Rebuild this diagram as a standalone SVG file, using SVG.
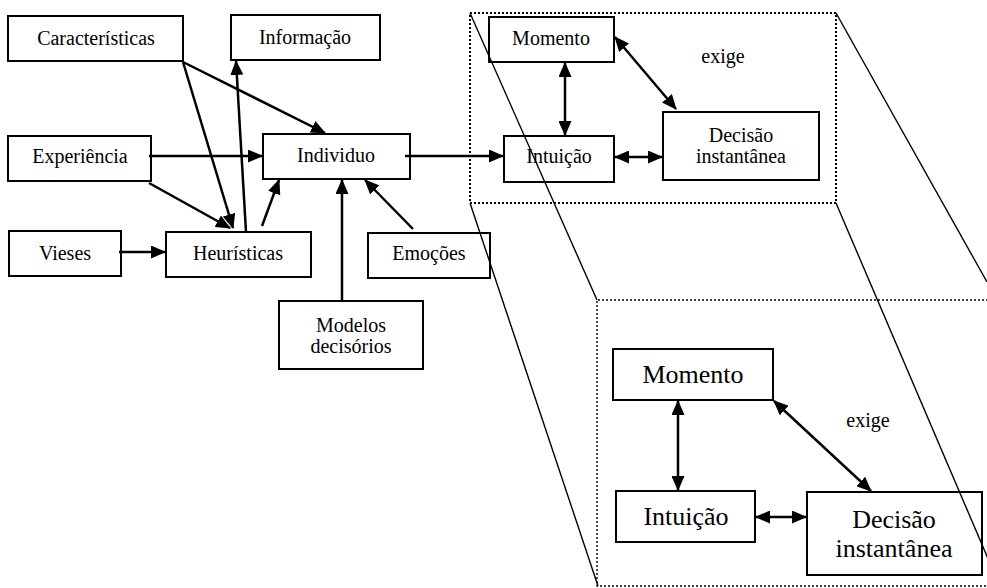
<svg xmlns="http://www.w3.org/2000/svg" width="987" height="588" viewBox="0 0 987 588">
<style>
  .box { fill: none; stroke: #000; stroke-width: 2; }
  .t { font-family: "Liberation Serif", "Times New Roman", serif; font-size: 20px; fill: #000; text-anchor: middle; }
  .tl { font-family: "Liberation Serif", "Times New Roman", serif; font-size: 26px; fill: #000; text-anchor: middle; }
  .c { stroke: #000; stroke-width: 2.5; fill: none; marker-end: url(#ah); }
  .d { stroke: #000; stroke-width: 2.5; fill: none; marker-end: url(#ah); marker-start: url(#ah); }
  .proj { stroke: #000; stroke-width: 1.4; fill: none; }
  .dot1 { fill: none; stroke: #000; stroke-width: 2; stroke-dasharray: 2 2; }
  .dot2 { fill: none; stroke: #000; stroke-width: 1.4; stroke-dasharray: 2 2; }
</style>
<defs>
  <marker id="ah" viewBox="0 0 15 13" refX="14" refY="6.5" markerWidth="15" markerHeight="13" markerUnits="userSpaceOnUse" orient="auto-start-reverse">
    <path d="M0,0 L15,6.5 L0,13 z" fill="#000"/>
  </marker>
</defs>
<rect width="987" height="588" fill="#fff"/>

<g id="zoom-frame">
  <rect class="dot1" x="470" y="13" width="366" height="190"/>
  <path class="dot2" d="M1000,300 L597,300 L597,586 L1000,586"/>
  <line class="proj" x1="470" y1="13" x2="597" y2="300"/>
  <line class="proj" x1="470" y1="203" x2="598" y2="586"/>
  <line class="proj" x1="836" y1="13" x2="987" y2="282"/>
  <line class="proj" x1="836" y1="203" x2="995" y2="575"/>
</g>

<g id="connectors">
  <line class="c" x1="183" y1="62" x2="325" y2="133"/>
  <line class="c" x1="183" y1="62" x2="233" y2="228"/>
  <line class="c" x1="246" y1="232" x2="236" y2="61"/>
  <line class="c" x1="149" y1="156" x2="262" y2="156"/>
  <line class="c" x1="149" y1="183" x2="230" y2="228"/>
  <line class="c" x1="262" y1="226" x2="279" y2="180"/>
  <line class="c" x1="342" y1="301" x2="342" y2="180"/>
  <line class="c" x1="413" y1="229" x2="365" y2="180"/>
  <line class="c" x1="119" y1="252" x2="165" y2="252"/>
  <line class="c" x1="405" y1="156" x2="503" y2="156"/>
  <line class="d" x1="565" y1="63" x2="565" y2="135"/>
  <line class="d" x1="615" y1="37" x2="676" y2="109"/>
  <line class="d" x1="615" y1="157" x2="662" y2="157"/>
  <line class="d" x1="678" y1="401" x2="678" y2="490"/>
  <line class="d" x1="774" y1="401" x2="871" y2="491"/>
  <line class="d" x1="756" y1="517" x2="806" y2="517"/>
</g>

<g id="caracteristicas"><rect class="box" x="8" y="16" width="175" height="45"/><text class="t" x="96" y="45">Características</text></g>
<g id="informacao"><rect class="box" x="231" y="15" width="149" height="45"/><text class="t" x="305" y="44">Informação</text></g>
<g id="experiencia"><rect class="box" x="8" y="136" width="143" height="45"/><text class="t" x="80" y="163">Experiência</text></g>
<g id="individuo"><rect class="box" x="263" y="134" width="147" height="45"/><text class="t" x="336" y="162">Individuo</text></g>
<g id="vieses"><rect class="box" x="9" y="231" width="112" height="45"/><text class="t" x="65" y="260">Vieses</text></g>
<g id="heuristicas"><rect class="box" x="166" y="232" width="145" height="45"/><text class="t" x="238" y="260">Heurísticas</text></g>
<g id="emocoes"><rect class="box" x="368" y="233" width="122" height="45"/><text class="t" x="429" y="260">Emoções</text></g>
<g id="modelos"><rect class="box" x="279" y="301" width="144" height="68"/><text class="t" x="351" y="332">Modelos</text><text class="t" x="351" y="353">decisórios</text></g>

<g id="momento-1"><rect class="box" x="489" y="17" width="125" height="45"/><text class="t" x="551" y="45">Momento</text></g>
<g id="intuicao-1"><rect class="box" x="504" y="136" width="110" height="46"/><text class="t" x="559" y="163">Intuição</text></g>
<g id="decisao-1"><rect class="box" x="663" y="112" width="156" height="68"/><text class="t" x="741" y="142">Decisão</text><text class="t" x="741" y="163">instantânea</text></g>
<g id="exige-1"><text class="t" x="723" y="63">exige</text></g>

<g id="momento-2"><rect class="box" x="613" y="349" width="160" height="51"/><text class="tl" x="693" y="383">Momento</text></g>
<g id="intuicao-2"><rect class="box" x="616" y="491" width="139" height="51"/><text class="tl" x="686" y="525">Intuição</text></g>
<g id="decisao-2"><rect class="box" x="807" y="492" width="175" height="83"/><text class="tl" x="894" y="528">Decisão</text><text class="tl" x="894" y="557">instantânea</text></g>
<g id="exige-2"><text class="t" x="868" y="427">exige</text></g>
</svg>
